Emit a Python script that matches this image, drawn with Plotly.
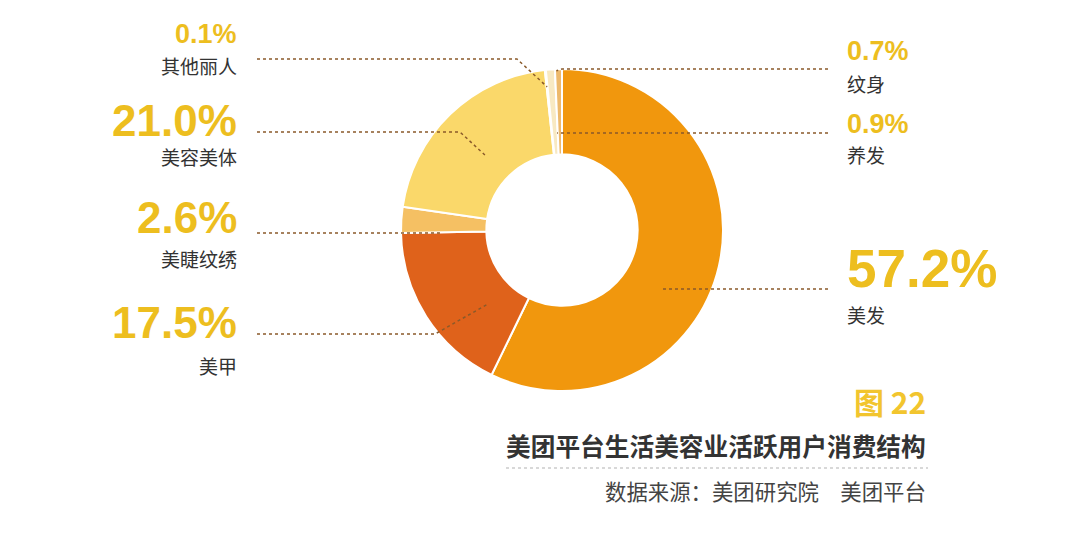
import math
import plotly.graph_objects as go

# ---------------- data ----------------
categories = ["美发", "美甲", "美睫纹绣", "美容美体", "其他丽人", "养发", "纹身"]
shares = [57.2, 17.5, 2.6, 21.0, 0.1, 0.9, 0.7]

# ---------------- styles / layout ----------------
slice_colors = ["#F1970D", "#DF621B", "#F5C063", "#FAD86A", "#F3D9A0", "#F8E9C2", "#EDB96C"]
W, H = 1080, 534
CX, CY, R = 562, 230, 161        # donut centre / radius in pixels
HOLE = 0.47

# label layout per category (same order as categories)
side      = ["R", "L", "L", "L", "L", "R", "R"]
pct_y     = [268, 322, 217, 120, 34, 124, 51]
name_y    = [314, 365, 258, 156, 66, 155, 83]
pct_size  = [53, 44, 44, 44, 27, 27, 27]
line_y    = [289, 334, 233, 132, 59, 133, 69]
elbow_x   = [None, 435, None, 460, 517, None, 562]
anch_frac = [0.583, 0.303, 0.10, 0.475, 0.5, 0.9, 0.2]
anch_rf   = [0.718, 0.65, 0.758, 0.668, 0.894, 0.61, 0.99]
LEFT_TEXT_X, LEFT_LINE_X = 239, 257
RIGHT_TEXT_X, RIGHT_LINE_X = 845, 828

PCT_COLOR = "#EDBE1F"
NAME_COLOR = "#333333"
LEADER_COLOR = "#8A5A2A"
CJK = "Noto Sans CJK SC"
LAT = "Liberation Sans"


def px(x):
    return x / W


def py(y):
    return 1 - y / H


fig = go.Figure()
fig.add_trace(go.Pie(
    labels=categories,
    values=shares,
    sort=False,
    direction="clockwise",
    rotation=0,
    hole=HOLE,
    marker=dict(colors=slice_colors, line=dict(color="white", width=2)),
    textinfo="none",
    hoverinfo="label+percent",
    showlegend=False,
    domain=dict(x=[px(CX - R), px(CX + R)], y=[py(CY + R), py(CY - R)]),
))

total = sum(shares)
annotations = []
shapes = []
cum = 0.0
for i, (cat, v) in enumerate(zip(categories, shares)):
    start = 360 * cum / total
    span = 360 * v / total
    cum += v
    theta = math.radians(start + anch_frac[i] * span)
    r = R * anch_rf[i]
    ax = CX + r * math.sin(theta)
    ay = CY - r * math.cos(theta)

    if side[i] == "L":
        tx, xanchor, x0 = LEFT_TEXT_X, "right", LEFT_LINE_X
    else:
        tx, xanchor, x0 = RIGHT_TEXT_X, "left", RIGHT_LINE_X

    annotations.append(dict(
        x=px(tx), y=py(pct_y[i]), xref="paper", yref="paper",
        text=f"<b>{v:.1f}%</b>", showarrow=False, xanchor=xanchor, yanchor="middle",
        font=dict(family=LAT, size=pct_size[i], color=PCT_COLOR),
    ))
    annotations.append(dict(
        x=px(tx), y=py(name_y[i]), xref="paper", yref="paper",
        text=cat, showarrow=False, xanchor=xanchor, yanchor="middle",
        font=dict(family=CJK, size=19, color=NAME_COLOR),
    ))

    yl = line_y[i]
    if elbow_x[i] is None:
        path = f"M {px(x0)} {py(yl)} L {px(ax)} {py(yl)}"
    else:
        path = (f"M {px(x0)} {py(yl)} L {px(elbow_x[i])} {py(yl)} "
                f"L {px(ax)} {py(ay)}")
    shapes.append(dict(
        type="path", path=path, xref="paper", yref="paper",
        line=dict(color=LEADER_COLOR, width=1.5, dash="3px,3px"),
    ))

# title block
annotations += [
    dict(x=px(928), y=py(401), xref="paper", yref="paper", showarrow=False,
         xanchor="right", yanchor="middle", text="<b>图 22</b>",
         font=dict(family=CJK, size=30, color="#F2C52E")),
    dict(x=px(928), y=py(445), xref="paper", yref="paper", showarrow=False,
         xanchor="right", yanchor="middle", text="<b>美团平台生活美容业活跃用户消费结构</b>",
         font=dict(family=CJK, size=24.7, color="#333333")),
    dict(x=px(928), y=py(490), xref="paper", yref="paper", showarrow=False,
         xanchor="right", yanchor="middle", text="数据来源：美团研究院\u3000美团平台",
         font=dict(family=CJK, size=21.4, color="#444444")),
]
shapes.append(dict(
    type="line", xref="paper", yref="paper",
    x0=px(506), x1=px(928), y0=py(468), y1=py(468),
    line=dict(color="#CCCCCC", width=1.5, dash="dot"),
))

fig.update_layout(
    width=W, height=H,
    margin=dict(l=0, r=0, t=0, b=0),
    paper_bgcolor="white", plot_bgcolor="white",
    annotations=annotations, shapes=shapes,
)

fig.write_html("out.html", config={"displayModeBar": False},
               post_script="document.body.style.margin='0';")
